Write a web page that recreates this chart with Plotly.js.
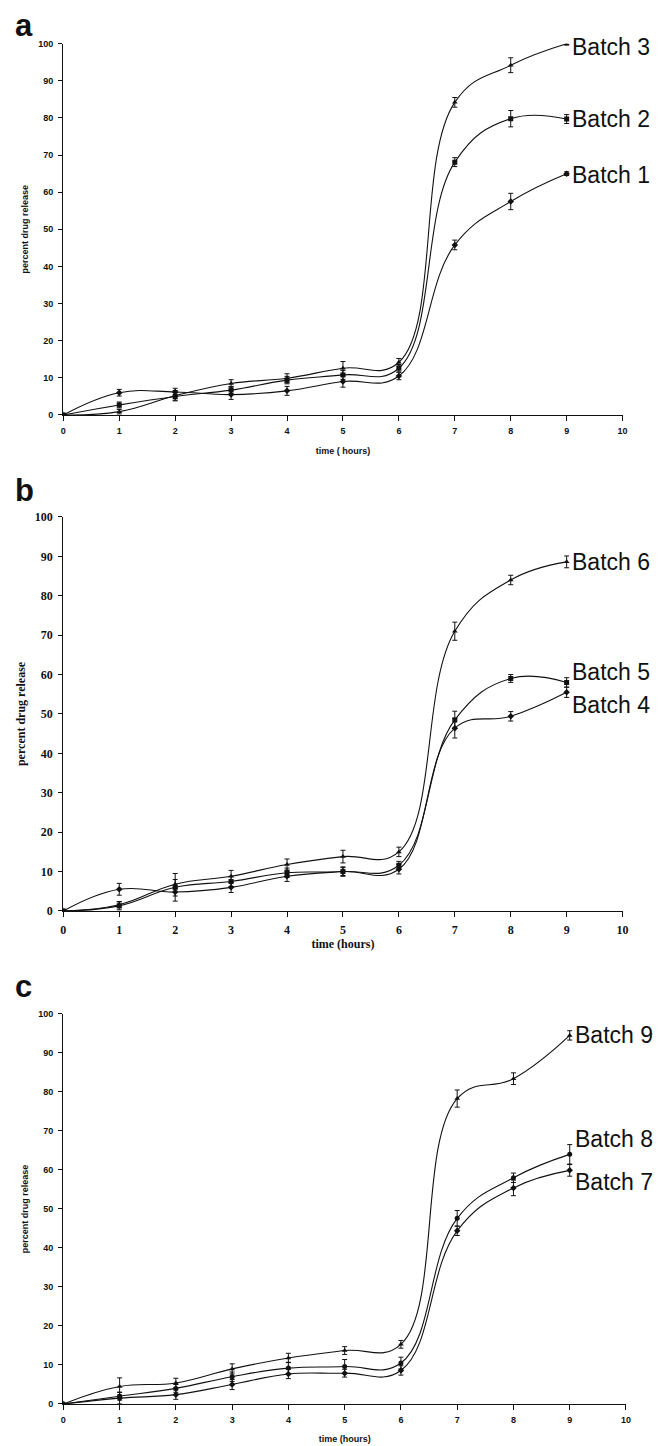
<!DOCTYPE html>
<html>
<head>
<meta charset="utf-8">
<script src="https://cdn.plot.ly/plotly-3.0.1.min.js"></script>
<style>
html,body{margin:0;padding:0;background:#fff;}
#chart{width:668px;height:1446px;}
</style>
</head>
<body>
<div id="chart"></div>
<script>
// ---- data ----
const hours = [0, 1, 2, 3, 4, 5, 6, 7, 8, 9];
const xTickVals = [0, 1, 2, 3, 4, 5, 6, 7, 8, 9, 10];
const yTickVals = [0, 10, 20, 30, 40, 50, 60, 70, 80, 90, 100];
const panelLetters = ["a", "b", "c"];

// panel a
const batch1 = [0, 6.0, 6.2, 5.5, 6.5, 9.0, 10.5, 45.8, 57.5, 65.0];
const batch1Err = [0, 0.9, 1.0, 1.3, 1.2, 1.5, 1.0, 1.3, 2.2, 0.5];
const batch2 = [0, 2.7, 5.0, 6.7, 9.4, 10.8, 12.6, 68.1, 79.8, 79.7];
const batch2Err = [0, 0.8, 1.0, 1.0, 1.0, 1.2, 1.0, 1.2, 2.2, 1.2];
const batch3 = [0, 0.9, 5.2, 8.5, 9.9, 12.6, 14.2, 84.2, 94.2, 100];
const batch3Err = [0, 0.6, 1.4, 1.0, 1.2, 1.8, 1.0, 1.3, 2.0, 0.4];

// panel b
const batch4 = [0, 5.5, 4.8, 6.0, 8.8, 10.0, 10.6, 46.4, 49.4, 55.5];
const batch4Err = [0, 1.5, 1.0, 1.3, 1.3, 1.2, 1.2, 2.5, 1.2, 1.3];
const batch5 = [0, 1.3, 6.0, 7.5, 9.7, 10.0, 11.6, 48.5, 59.0, 58.0];
const batch5Err = [0, 1.0, 3.5, 1.3, 1.2, 1.0, 1.0, 2.2, 1.0, 1.2];
const batch6 = [0, 1.6, 6.8, 8.8, 11.8, 13.8, 15.0, 71.0, 84.0, 88.6];
const batch6Err = [0, 0.8, 1.2, 1.5, 1.4, 1.6, 1.2, 2.3, 1.2, 1.5];

// panel c
const batch7 = [0, 1.5, 2.4, 5.0, 7.7, 7.9, 8.6, 44.4, 55.4, 59.9];
const batch7Err = [0, 1.5, 1.2, 1.3, 1.2, 1.0, 1.2, 1.2, 2.0, 1.5];
const batch8 = [0, 2.0, 4.0, 7.0, 9.2, 9.6, 10.5, 47.6, 58.0, 64.0];
const batch8Err = [0, 1.0, 1.0, 1.2, 1.5, 1.8, 1.5, 2.0, 1.2, 2.5];
const batch9 = [0, 4.5, 5.4, 9.0, 11.8, 13.7, 15.3, 78.3, 83.4, 94.5];
const batch9Err = [0, 2.2, 1.2, 1.3, 1.2, 1.0, 1.0, 2.2, 1.5, 1.2];

const seriesNames = ["Batch 1","Batch 2","Batch 3","Batch 4","Batch 5","Batch 6","Batch 7","Batch 8","Batch 9"];
const xTitles = ["time ( hours)", "time (hours)", "time (hours)"];
const yTitle = "percent drug release";

// ---- build ----
// labelShift: vertical pixel offset of each end label (positive = up)
const panels = [
  {ax: "", series: [[batch1, batch1Err, "diamond"], [batch2, batch2Err, "square"], [batch3, batch3Err, "triangle-up"]], names: seriesNames.slice(0,3), labelShift: [-1, 0, -3]},
  {ax: "2", series: [[batch4, batch4Err, "diamond"], [batch5, batch5Err, "square"], [batch6, batch6Err, "triangle-up"]], names: seriesNames.slice(3,6), labelShift: [-13, 10, 0]},
  {ax: "3", series: [[batch7, batch7Err, "diamond"], [batch8, batch8Err, "circle"], [batch9, batch9Err, "triangle-up"]], names: seriesNames.slice(6,9), labelShift: [-12, 15, 0]}
];

const traces = [];
const annotations = [];
panels.forEach((p) => {
  p.series.forEach((s, si) => {
    traces.push({
      type: "scatter", mode: "lines+markers",
      x: hours, y: s[0], name: p.names[si],
      xaxis: "x" + p.ax, yaxis: "y" + p.ax,
      line: {color: "#111", width: 1.1, shape: "spline", smoothing: 1.2},
      marker: {symbol: s[2], size: 5, color: "#111"},
      error_y: {type: "data", array: s[1], visible: true, color: "#111", thickness: 1, width: 2.5},
      showlegend: false, hoverinfo: "x+y+name"
    });
    const last = s[0].length - 1;
    annotations.push({
      xref: "x" + p.ax, yref: "y" + p.ax, x: hours[last], y: s[0][last],
      text: p.names[si], showarrow: false, xanchor: "left", yanchor: "middle",
      xshift: 3, yshift: p.labelShift[si],
      font: {family: "Liberation Sans, Arial, sans-serif", size: 23, color: "#111"}
    });
  });
});

const letterY = [1 - 6/1446, 1 - 471/1446, 1 - 967/1446];
panelLetters.forEach((l, i) => {
  annotations.push({
    xref: "paper", yref: "paper", x: 13/668, y: letterY[i], xanchor: "left", yanchor: "top",
    text: l, showarrow: false,
    font: {family: "Liberation Sans, Arial, sans-serif", size: 31, weight: 700, color: "#111"}
  });
});

const sansTick = {family: "Liberation Sans, Arial, sans-serif", size: 9, weight: 700, color: "#111"};
const serifTick = {family: "Liberation Serif, Times New Roman, serif", size: 12, weight: 700, color: "#111"};

function xAxis(domain, anchor, title, font, standoff) {
  return {
    domain: domain, anchor: anchor, range: [0, 10], tickvals: xTickVals, ticktext: xTickVals.map(String),
    showline: true, linecolor: "#111", linewidth: 1.3, ticks: "outside", ticklen: 5, tickcolor: "#111", tickwidth: 1,
    showgrid: false, zeroline: false, tickfont: font, ticklabelstandoff: 2, fixedrange: true,
    title: {text: title, font: {family: font.family, size: font.size, weight: 700, color: "#111"}, standoff: standoff}
  };
}
function yAxis(domain, anchor, font, standoff) {
  return {
    domain: domain, anchor: anchor, range: [0, 100], tickvals: yTickVals, ticktext: yTickVals.map(String),
    showline: true, linecolor: "#111", linewidth: 1.3, ticks: "outside", ticklen: 4, tickcolor: "#111", tickwidth: 1,
    showgrid: false, zeroline: false, tickfont: font, ticklabelstandoff: 3, fixedrange: true,
    title: {text: yTitle, font: {family: font.family, size: font.size, weight: 700, color: "#111"}, standoff: standoff}
  };
}

const layout = {
  width: 668, height: 1446,
  margin: {l: 0, r: 0, t: 0, b: 0},
  paper_bgcolor: "#fff", plot_bgcolor: "#fff",
  showlegend: false,
  xaxis: xAxis([0.0948, 0.9320], "y", xTitles[0], sansTick, 12),
  yaxis: yAxis([0.7130, 0.9698], "x", sansTick, 8),
  xaxis2: xAxis([0.0948, 0.9320], "y2", xTitles[1], serifTick, 4),
  yaxis2: yAxis([0.3700, 0.6425], "x2", serifTick, 6),
  xaxis3: xAxis([0.0948, 0.9371], "y3", xTitles[2], sansTick, 11),
  yaxis3: yAxis([0.02905, 0.2988], "x3", sansTick, 8),
  annotations: annotations
};

Plotly.newPlot("chart", traces, layout, {displayModeBar: false, staticPlot: true});
</script>
</body>
</html>
